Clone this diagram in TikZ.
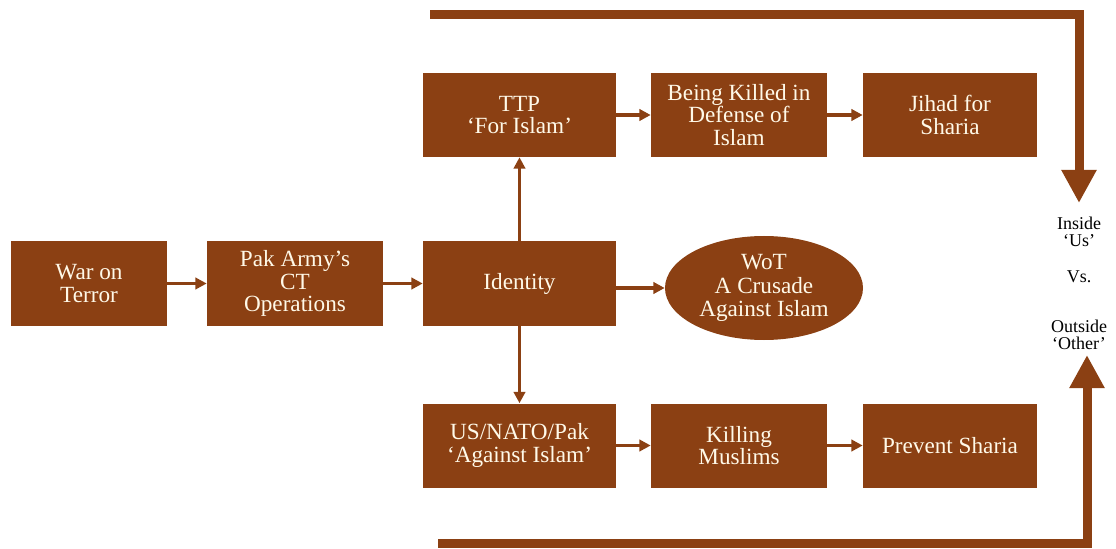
\documentclass[tikz,border=0pt]{standalone}
\usepackage{fontspec}
\setmainfont{Liberation Serif}
\usetikzlibrary{arrows.meta,shapes.geometric}
\definecolor{bark}{RGB}{139,64,19}
\definecolor{cream}{RGB}{255,249,232}

\begin{document}
\begin{tikzpicture}[
  box/.style={fill=bark, text=cream, minimum height=2.1cm, align=center, inner sep=2pt, font=\fontsize{16.5}{16}\selectfont},
  oval/.style={ellipse, fill=bark, text=cream, align=center, inner sep=0pt, font=\fontsize{16.5}{17}\selectfont},
  link/.style={draw=bark, line width=2.8pt, -{Triangle[length=8pt,width=8pt]}},
  bigarrow/.style={draw=bark, line width=6.4pt, -{Triangle[length=0.825cm,width=0.825cm]}},
  side/.style={text=black, align=center, font=\fontsize{12.8}{12.1}\selectfont}
]
\useasboundingbox (0,0) rectangle (27.9,13.7);

\node[box, minimum width=3.9cm] (war) at (2.225, 6.6125) {War on\\Terror};
\node[box, minimum width=4.4cm] (pak) at (7.375, 6.6125) {Pak Army's\\CT\\Operations};
\node[box, minimum width=4.825cm] (identity) at (12.9875, 6.6125) {Identity};
\node[oval, minimum width=4.95cm, minimum height=2.6cm] (crusade) at (19.1, 6.5) {WoT\\A Crusade\\Against Islam};

\node[box, minimum width=4.825cm] (ttp) at (12.9875, 10.825) {TTP\\`For Islam'};
\node[box, minimum width=4.4cm] (defense) at (18.475, 10.825) {Being Killed in\\Defense of\\Islam};
\node[box, minimum width=4.35cm] (jihad) at (23.75, 10.825) {Jihad for\\Sharia};

\node[box, minimum width=4.825cm] (usnato) at (12.9875, 2.5625) {US/NATO/Pak\\`Against Islam'};
\node[box, minimum width=4.4cm] (muslims) at (18.475, 2.5625) {Killing\\Muslims};
\node[box, minimum width=4.35cm] (prevent) at (23.75, 2.5625) {Prevent Sharia};

\node[side] (inside) at (26.975, 7.9) {Inside\\`Us'};
\node[side] (versus) at (26.975, 6.775) {Vs.};
\node[side] (outside) at (26.975, 5.325) {Outside\\`Other'};

\draw[link] (war) -- (pak);
\draw[link] (pak) -- (identity);
\draw[link] (identity.east |- crusade) -- (crusade);
\draw[link] (identity) -- (ttp);
\draw[link] (identity) -- (usnato);
\draw[link] (ttp) -- (defense);
\draw[link] (defense) -- (jihad);
\draw[link] (usnato) -- (muslims);
\draw[link] (muslims) -- (prevent);

\coordinate (topstart) at (10.75, 13.325);
\coordinate (usTip) at (26.975, 8.625);
\draw[bigarrow] (topstart) -| (usTip);
\coordinate (botstart) at (10.95, 0.125);
\coordinate (otherTip) at (27.175, 4.825);
\draw[bigarrow] (botstart) -| (otherTip);

\end{tikzpicture}
\end{document}
